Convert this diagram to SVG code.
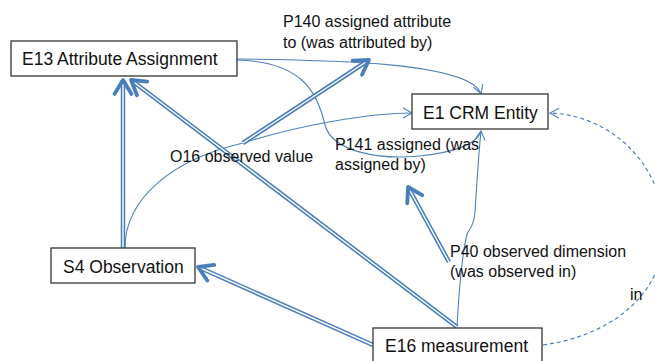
<svg xmlns="http://www.w3.org/2000/svg" width="655" height="361" viewBox="0 0 655 361">
<style>
.box{fill:#fff;stroke:#333;stroke-width:1.3}
.nt{font-family:"Liberation Sans",Arial,sans-serif;font-size:17.5px;fill:#111}
.lt{font-family:"Liberation Sans",Arial,sans-serif;font-size:16px;fill:#111}
.thin{fill:none;stroke:#4f81bd;stroke-width:1.1}
.dash{fill:none;stroke:#4f81bd;stroke-width:1.2;stroke-dasharray:4 3}
.dbo{fill:none;stroke:#4a7ebb;stroke-width:4.5}
.dbi{fill:none;stroke:#fff;stroke-width:1.4}
</style>
<defs>
<marker id="thick" markerUnits="userSpaceOnUse" markerWidth="30" markerHeight="30" refX="0" refY="0" orient="auto" overflow="visible">
<path d="M-14,-8.5 L0,0 L-14,8.5" fill="none" stroke="#4a7ebb" stroke-width="3.8" stroke-linecap="round" stroke-linejoin="round"/>
</marker>
<marker id="open" markerUnits="userSpaceOnUse" markerWidth="20" markerHeight="20" refX="0" refY="0" orient="auto" overflow="visible">
<path d="M-9,-5 L0,0 L-9,5" fill="none" stroke="#4f81bd" stroke-width="1.1"/>
</marker>
</defs>
<g id="connectors">
<path class="thin" d="M237,59 C330,60 470,62 481,94" marker-end="url(#open)"/>
<path class="thin" d="M237,60 C305,62 318,95 325,125 C332,152 380,160 420,156 C455,152 475,145 481,132"/>
<path class="thin" d="M125,248 C125,200 170,160 243,143 C300,125 370,113 412,113" marker-end="url(#open)"/>
<path class="thin" d="M457,327 C459,290 462,255 467,234 C470,228 474,226 475,212 C477,180 479,150 481,131" marker-end="url(#open)"/>
<path class="dash" d="M543,345 C615,335 668,290 664,225 C660,160 608,115 550,113" marker-end="url(#open)"/>
<path class="dbo" d="M123,248 L123,80"/>
<path class="dbi" d="M123,248 L123,80" marker-end="url(#thick)"/>
<path class="dbo" d="M457,327 L131,80"/>
<path class="dbi" d="M457,327 L131,80" marker-end="url(#thick)"/>
<path class="dbo" d="M373,345 L198,267"/>
<path class="dbi" d="M373,345 L198,267" marker-end="url(#thick)"/>
<path class="dbo" d="M243,143 L369,60"/>
<path class="dbi" d="M243,143 L369,60" marker-end="url(#thick)"/>
<path class="dbo" d="M449,262 L408,187"/>
<path class="dbi" d="M449,262 L408,187" marker-end="url(#thick)"/>
</g>
<g id="e13">
<rect class="box" x="11" y="41" width="226" height="35"/>
<text class="nt" x="22" y="65">E13 Attribute Assignment</text>
</g>
<g id="e1">
<rect class="box" x="412" y="94" width="136" height="35"/>
<text class="nt" x="423" y="118.5">E1 CRM Entity</text>
</g>
<g id="s4">
<rect class="box" x="51" y="248" width="144" height="35"/>
<text class="nt" x="63" y="272.5">S4 Observation</text>
</g>
<g id="e16">
<rect class="box" x="373" y="328" width="169" height="40"/>
<text class="nt" x="385" y="351.5">E16 measurement</text>
</g>
<g id="labels">
<text class="lt" x="283" y="27">P140 assigned attribute</text>
<text class="lt" x="283" y="48">to (was attributed by)</text>
<text class="lt" x="170" y="161.5">O16 observed value</text>
<text class="lt" x="335" y="150">P141 assigned (was</text>
<text class="lt" x="335" y="170">assigned by)</text>
<text class="lt" x="450" y="256.5">P40 observed dimension</text>
<text class="lt" x="450" y="276.5">(was observed in)</text>
<text class="lt" x="630" y="300">in</text>
</g>
</svg>
